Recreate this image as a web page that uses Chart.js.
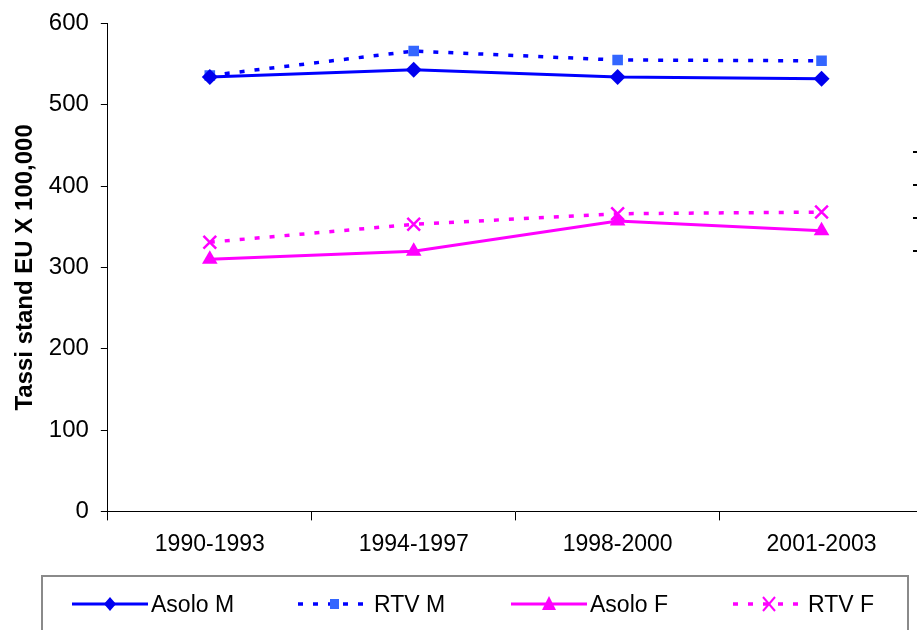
<!DOCTYPE html>
<html>
<head>
<meta charset="utf-8">
<script src="https://cdn.jsdelivr.net/npm/chart.js@4/dist/chart.umd.min.js"></script>
<style>
  html, body { margin: 0; padding: 0; background: #fff; overflow: hidden; width: 917px; height: 630px; }
  #wrap { position: absolute; left: 0; top: 0; width: 935px; height: 630px; }
  #legend { position: absolute; left: 41px; top: 575px; width: 868px; height: 80px; border: 2px solid #8a8a8a; box-sizing: border-box; }
  .li { position: absolute; top: 591px; height: 26px; display: flex; align-items: center; font-family: "Liberation Sans", Arial, sans-serif; font-size: 23px; color: #000; }
  .li svg { display: block; margin-right: 3px; }
  .dash { position: absolute; left: 913px; width: 5px; height: 2px; background: #000; }
</style>
</head>
<body>
<div id="wrap"><canvas id="c"></canvas></div>
<div id="legend"></div>
<div class="li" style="left:72px"><svg width="76" height="20"><line x1="0" y1="10" x2="76" y2="10" stroke="#0000ff" stroke-width="3"/><polygon points="38,3 44,10 38,17 32,10" fill="#0000ee"/></svg><span>Asolo M</span></div>
<div class="li" style="left:298px"><svg width="73" height="20"><line x1="0" y1="10" x2="73" y2="10" stroke="#0000ff" stroke-width="3.5" stroke-dasharray="5 10"/><rect x="32" y="5" width="9" height="10" fill="#3366ff"/></svg><span>RTV M</span></div>
<div class="li" style="left:511px"><svg width="76" height="20"><line x1="0" y1="10" x2="76" y2="10" stroke="#ff00ff" stroke-width="3"/><polygon points="38,2 45,16 31,16" fill="#ff00ff"/></svg><span>Asolo F</span></div>
<div class="li" style="left:733px"><svg width="72" height="20"><line x1="0" y1="10" x2="72" y2="10" stroke="#ff00ff" stroke-width="3.5" stroke-dasharray="5 10"/><line x1="30" y1="3" x2="42" y2="17" stroke="#ff00ff" stroke-width="2"/><line x1="42" y1="3" x2="30" y2="17" stroke="#ff00ff" stroke-width="2"/></svg><span>RTV F</span></div>
<div class="dash" style="top:151px"></div>
<div class="dash" style="top:184px"></div>
<div class="dash" style="top:217px"></div>
<div class="dash" style="top:250px"></div>
<script>
const categories = ["1990-1993", "1994-1997", "1998-2000", "2001-2003"];
const asoloM = [534, 543, 534, 532];
const rtvM   = [536, 566, 555, 554];
const asoloF = [310, 320, 357, 345];
const rtvF   = [331, 353, 366, 368];
const yTicks = [0, 100, 200, 300, 400, 500, 600];
const yTitle = "Tassi stand EU X 100,000";

const font = "'Liberation Sans', Arial, sans-serif";
new Chart(document.getElementById('c'), {
  type: 'line',
  data: {
    labels: categories,
    datasets: [
      { label: 'Asolo M', data: asoloM, borderColor: '#0000ff', backgroundColor: '#0000ee', borderWidth: 3,
        pointStyle: 'rectRot', pointRadius: 8, pointBorderWidth: 0, pointBackgroundColor: '#0000ee', tension: 0 },
      { label: 'RTV M', data: rtvM, borderColor: '#0000ff', backgroundColor: '#3366ff', borderWidth: 3.5, borderDash: [5, 10],
        pointStyle: 'rect', pointRadius: 7.5, pointBorderWidth: 0, pointBackgroundColor: '#3366ff', tension: 0 },
      { label: 'Asolo F', data: asoloF, borderColor: '#ff00ff', backgroundColor: '#ff00ff', borderWidth: 3,
        pointStyle: 'triangle', pointRadius: 9, pointBorderWidth: 0, pointBackgroundColor: '#ff00ff', tension: 0 },
      { label: 'RTV F', data: rtvF, borderColor: '#ff00ff', backgroundColor: '#ff00ff', borderWidth: 3.5, borderDash: [5, 10],
        pointStyle: 'crossRot', pointRadius: 9, pointBorderWidth: 2.5, pointBorderColor: '#ff00ff', tension: 0 }
    ]
  },
  options: {
    responsive: true,
    maintainAspectRatio: false,
    animation: false,
    layout: { padding: { left: 11, top: 4, right: 2, bottom: 62 } },
    plugins: { legend: { display: false }, tooltip: { enabled: false } },
    scales: {
      x: {
        offset: true,
        grid: { display: true, offset: true, drawOnChartArea: false, drawTicks: true, tickLength: 9, color: '#000', tickColor: '#000', tickWidth: 1 },
        border: { display: true, color: '#000', width: 1 },
        ticks: { color: '#000', font: { family: font, size: 23 }, padding: 10, maxRotation: 0, autoSkip: false }
      },
      y: {
        min: 0, max: 600,
        afterBuildTicks: (s) => { s.ticks = yTicks.map(v => ({ value: v })); },
        grid: { display: true, drawOnChartArea: false, drawTicks: true, tickLength: 7, color: '#000', tickColor: '#000', tickWidth: 1 },
        border: { display: true, color: '#000', width: 1 },
        ticks: { color: '#000', font: { family: font, size: 24, lineHeight: 0.95 }, padding: 12 },
        title: { display: true, text: yTitle, color: '#000', font: { family: font, size: 24, weight: 'bold' }, padding: { top: 0, bottom: -3 } }
      }
    }
  }
});
</script>
</body>
</html>
